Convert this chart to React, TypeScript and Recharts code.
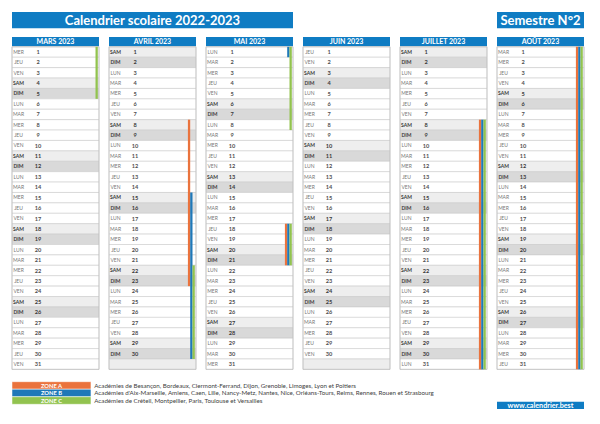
import React from 'react';
import { ScatterChart, Scatter, XAxis, YAxis, ReferenceArea } from 'recharts';

const FONT = 'Lato, "Liberation Sans", sans-serif';
const BLUE = '#0f7cc3';
const ORANGE = '#ea733d';
const ZBLUE = '#1f78b8';
const GREEN = '#92c34f';

const title = 'Calendrier scolaire 2022-2023';
const semester = 'Semestre N°2';
const months = ['MARS 2023', 'AVRIL 2023', 'MAI 2023', 'JUIN 2023', 'JUILLET 2023', 'AOÛT 2023'];
const monthLengths = [31, 30, 31, 30, 31, 31];
const firstWeekday = [2, 5, 0, 3, 5, 1];
const dayNames = ['LUN', 'MAR', 'MER', 'JEU', 'VEN', 'SAM', 'DIM'];

const zoneA = [
  { m: 1, from: 8, to: 23 },
  { m: 2, from: 18, to: 21 },
  { m: 4, from: 8, to: 31 },
  { m: 5, from: 1, to: 31 },
];
const zoneB = [
  { m: 1, from: 15, to: 30 },
  { m: 2, from: 1, to: 1 },
  { m: 2, from: 18, to: 21 },
  { m: 4, from: 8, to: 31 },
  { m: 5, from: 1, to: 31 },
];
const zoneC = [
  { m: 0, from: 1, to: 5 },
  { m: 1, from: 22, to: 30 },
  { m: 2, from: 1, to: 8 },
  { m: 2, from: 18, to: 21 },
  { m: 4, from: 8, to: 31 },
  { m: 5, from: 1, to: 31 },
];

const zoneLabels = ['ZONE A', 'ZONE B', 'ZONE C'];
const zoneTexts = [
  'Académies de Besançon, Bordeaux, Clermont-Ferrand, Dijon, Grenoble, Limoges, Lyon et Poitiers',
  "Académies d'Aix-Marseille, Amiens, Caen, Lille, Nancy-Metz, Nantes, Nice, Orléans-Tours, Reims, Rennes, Rouen et Strasbourg",
  'Académies de Créteil, Montpellier, Paris, Toulouse et Versailles',
];
const website = 'www.calendrier.best';

// layout (style) constants
const CW = 87 / 97;
const zoneDefs = [
  { list: zoneA, color: ORANGE, a: 78.9 / 97, b: 81.2 / 97 },
  { list: zoneB, color: ZBLUE, a: 81.2 / 97, b: 83.5 / 97 },
  { list: zoneC, color: GREEN, a: 83.5 / 97, b: 85.8 / 97 },
];
const zoneColors = [ORANGE, ZBLUE, GREEN];

const cells: any[] = [];
months.forEach((_, m) => {
  for (let d = 1; d <= 31; d++) {
    cells.push({
      x: m,
      y: d - 0.5,
      m,
      d,
      exists: d <= monthLengths[m],
      wd: (firstWeekday[m] + d - 1) % 7,
    });
  }
});

const cellFill = (c: any) => {
  if (!c.exists) return '#ededed';
  if (c.wd === 5) return '#eeeeee';
  if (c.wd === 6) return '#d9d9d9';
  return '#ffffff';
};

const CellText = (props: any) => {
  const { cx, cy, payload } = props;
  if (!payload || !payload.exists) return <g />;
  const we = payload.wd >= 5;
  return (
    <g>
      <text
        x={cx + 6.5}
        y={cy + 1.8}
        textAnchor="middle"
        fontSize={5}
        fontFamily={FONT}
        fontWeight={we ? 700 : 400}
        fill={we ? '#3a3a3a' : '#777777'}
      >
        {dayNames[payload.wd]}
      </text>
      <text
        x={cx + 26}
        y={cy + 2}
        textAnchor="middle"
        fontSize={5.6}
        fontFamily={FONT}
        fontWeight={700}
        fill={we ? '#3a3a3a' : '#505050'}
      >
        {payload.d}
      </text>
    </g>
  );
};

export default function App() {
  return (
    <div style={{ position: 'absolute', left: 0, top: 0, background: '#fff' }}>
      <ScatterChart width={600} height={424} margin={{ top: 0, right: 6, bottom: 0, left: 12 }}>
        <XAxis type="number" dataKey="x" domain={[0, 6]} allowDataOverflow hide />
        <YAxis type="number" dataKey="y" domain={[-4.5, 36.25]} allowDataOverflow reversed hide />

        <ReferenceArea
          x1={0}
          x2={2 + CW}
          y1={-3.35}
          y2={-1.79}
          fill={BLUE}
          fillOpacity={1}
          label={{ value: title, position: 'center', fill: '#fff', fontSize: 13, fontWeight: 700, fontFamily: FONT }}
        />
        <ReferenceArea
          x1={5}
          x2={5 + CW}
          y1={-3.35}
          y2={-1.79}
          fill={BLUE}
          fillOpacity={1}
          label={{ value: semester, position: 'center', fill: '#fff', fontSize: 13, fontWeight: 700, fontFamily: FONT }}
        />

        {months.map((name, m) => (
          <ReferenceArea
            key={'h' + m}
            x1={m}
            x2={m + CW}
            y1={-0.94}
            y2={-0.06}
            fill={BLUE}
            fillOpacity={1}
            label={{ value: name, position: 'center', fill: '#fff', fontSize: 7, fontWeight: 700, fontFamily: FONT }}
          />
        ))}

        {cells.map((c, i) => (
          <ReferenceArea
            key={'c' + i}
            x1={c.m}
            x2={c.m + CW}
            y1={c.d - 1}
            y2={c.d}
            fill={cellFill(c)}
            fillOpacity={1}
            stroke="#cccccc"
            strokeWidth={0.6}
          />
        ))}

        {months.map((_, m) => (
          <ReferenceArea
            key={'o' + m}
            x1={m}
            x2={m + CW}
            y1={0}
            y2={31}
            fill="none"
            fillOpacity={0}
            stroke="#bdbdbd"
            strokeWidth={0.7}
          />
        ))}

        {zoneDefs.map((z, zi) =>
          z.list.map((p, i) => (
            <ReferenceArea
              key={'z' + zi + '-' + i}
              x1={p.m + z.a}
              x2={p.m + z.b}
              y1={p.from - 1}
              y2={p.to}
              fill={z.color}
              fillOpacity={1}
            />
          ))
        )}

        {zoneLabels.map((lab, i) => (
          <ReferenceArea
            key={'zl' + i}
            x1={0}
            x2={0.814}
            y1={32.184 + i * 0.724}
            y2={32.184 + (i + 1) * 0.724}
            fill={zoneColors[i]}
            fillOpacity={1}
            stroke="#fff"
            strokeWidth={0.5}
            label={{ value: lab, position: 'center', fill: '#fff', fontSize: 5.8, fontWeight: 700, fontFamily: FONT }}
          />
        ))}
        {zoneTexts.map((t, i) => (
          <ReferenceArea
            key={'zt' + i}
            x1={0.848}
            x2={4.9}
            y1={32.184 + i * 0.724}
            y2={32.184 + (i + 1) * 0.724}
            fill="none"
            fillOpacity={0}
            label={{ value: t, position: 'insideLeft', offset: 0, fill: '#404040', fontSize: 6.2, fontFamily: FONT }}
          />
        ))}

        <ReferenceArea
          x1={5}
          x2={5 + CW}
          y1={34.11}
          y2={34.81}
          fill={BLUE}
          fillOpacity={1}
          label={{ value: website, position: 'center', fill: '#fff', fontSize: 7.2, fontWeight: 700, fontFamily: FONT }}
        />

        <Scatter data={cells} shape={CellText} isAnimationActive={false} />
      </ScatterChart>
    </div>
  );
}
